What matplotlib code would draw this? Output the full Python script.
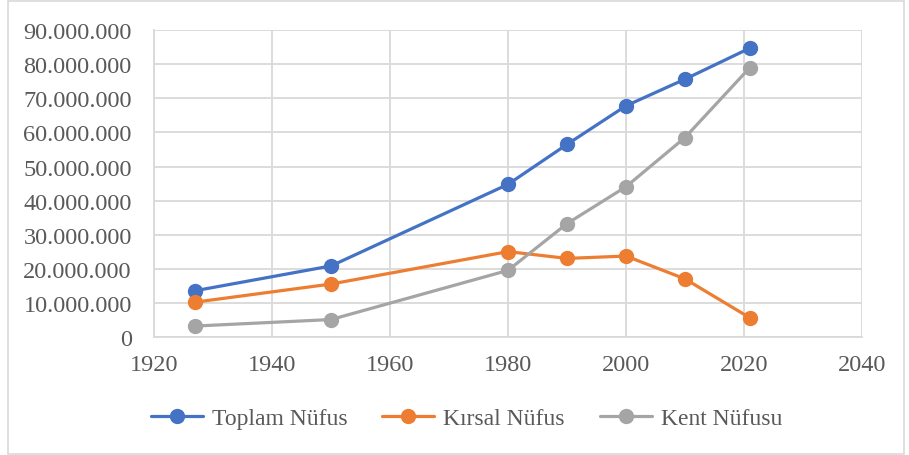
import matplotlib.pyplot as plt
from matplotlib.ticker import FuncFormatter, MultipleLocator
from matplotlib.patches import Rectangle

# yillar ve nufus verileri
years = [1927, 1950, 1980, 1990, 2000, 2010, 2021]
toplam = [13_650_000, 20_900_000, 44_800_000, 56_500_000, 67_800_000, 75_600_000, 84_700_000]
kirsal = [10_300_000, 15_600_000, 25_100_000, 23_100_000, 23_800_000, 17_100_000, 5_700_000]
kent = [3_300_000, 5_200_000, 19_600_000, 33_300_000, 44_100_000, 58_500_000, 79_000_000]

series = [
    ('Toplam Nüfus', toplam, '#4472C4'),
    ('Kırsal Nüfus', kirsal, '#ED7D31'),
    ('Kent Nüfusu', kent, '#A5A5A5'),
]

plt.rcParams['font.family'] = ['Liberation Serif', 'DejaVu Serif']
text_color = '#595959'
grid_color = '#D9D9D9'

fig = plt.figure(figsize=(9.09, 4.56), dpi=100)
ax = fig.add_axes([154 / 909, 1 - 338.3 / 456, (862 - 154) / 909, (338.3 - 31) / 456])

for name, vals, col in series:
    ax.plot(years, vals, color=col, linewidth=2.3, marker='o', markersize=10,
            label=name, solid_capstyle='round', zorder=3)

ax.set_xlim(1920, 2040)
ax.set_ylim(0, 90_000_000)
ax.xaxis.set_major_locator(MultipleLocator(20))
ax.yaxis.set_major_locator(MultipleLocator(10_000_000))
ax.yaxis.set_major_formatter(FuncFormatter(lambda v, p: f"{v:,.0f}".replace(",", ".")))

ax.grid(True, color=grid_color, linewidth=1.3, zorder=0)
for side in ax.spines:
    ax.spines[side].set_visible(False)
ax.spines['left'].set_visible(True)
ax.spines['bottom'].set_visible(True)
ax.spines['left'].set_color(grid_color)
ax.spines['bottom'].set_color(grid_color)
ax.spines['left'].set_linewidth(1.3)
ax.spines['bottom'].set_linewidth(1.3)
ax.tick_params(length=0, labelsize=17.5, colors=text_color)
ax.tick_params(axis='y', pad=16)
ax.tick_params(axis='x', pad=12)

fig.legend(loc='center', bbox_to_anchor=(0.513, 1 - 419 / 456), ncol=3, frameon=False,
           fontsize=17, labelcolor=text_color, handlelength=2.2, handletextpad=0.38,
           columnspacing=1.48)

# dis cerceve
fig.patches.append(Rectangle((8 / 909, 1 / 456), 896 / 909, 453 / 456, transform=fig.transFigure,
                             fill=False, edgecolor='#D9D9D9', linewidth=1.2))

fig.savefig('out.png', dpi=100)
